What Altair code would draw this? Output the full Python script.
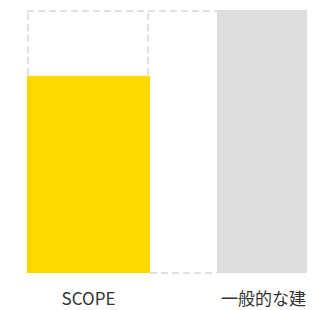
import altair as alt
import pandas as pd

categories = ["SCOPE", "一般的な建"]
values = [75, 100]
colors = ["#FDD900", "#DCDDDD"]
label_shift = [0, -15]
full_value = 100

bars = pd.DataFrame({"cat": categories, "value": values, "color": colors})

x_scale = alt.Scale(domain=categories, range=[0, 313], paddingInner=0.3526, paddingOuter=0)
y_scale = alt.Scale(domain=[0, full_value])
dash = [7, 4]
dash_color = "#E0E0E0"

top_df = pd.DataFrame({"a": [categories[0]], "b": [categories[1]], "y": [full_value]})
bottom_df = pd.DataFrame({"a": [categories[0]], "b": [categories[1]], "y": [0]})
vert_df = pd.DataFrame({"a": [categories[0]], "y": [0], "y2": [full_value]})

def xf(field, bp):
    return alt.X(f"{field}:N", scale=x_scale, axis=None, bandPosition=bp)

top_rule = alt.Chart(top_df).mark_rule(
    stroke=dash_color, strokeWidth=2, strokeDash=dash, yOffset=1
).encode(
    x=xf("a", 0),
    x2=alt.X2("b:N", bandPosition=0),
    y=alt.Y("y:Q", scale=y_scale, axis=None),
)

bottom_rule = alt.Chart(bottom_df).mark_rule(
    stroke=dash_color, strokeWidth=2, strokeDash=dash
).encode(
    x=xf("a", 1),
    x2=alt.X2("b:N", bandPosition=0),
    y=alt.Y("y:Q", scale=y_scale, axis=None),
)

left_rule = alt.Chart(vert_df).mark_rule(
    stroke=dash_color, strokeWidth=2, strokeDash=dash, xOffset=1
).encode(
    x=xf("a", 0),
    y=alt.Y("y:Q", scale=y_scale, axis=None),
    y2="y2:Q",
)

mid_rule = alt.Chart(vert_df).mark_rule(
    stroke=dash_color, strokeWidth=2, strokeDash=dash, xOffset=-2
).encode(
    x=xf("a", 1),
    y=alt.Y("y:Q", scale=y_scale, axis=None),
    y2="y2:Q",
)

bar_layer = alt.Chart(bars).mark_bar(size=123).encode(
    x=alt.X("cat:N", scale=x_scale, axis=None),
    y=alt.Y("value:Q", scale=y_scale, axis=None),
    color=alt.Color("color:N", scale=None, legend=None),
)

label_layers = []
for cat, shift in zip(categories, label_shift):
    label_layers.append(
        alt.Chart(bars[bars["cat"] == cat]).mark_text(
            font="Noto Sans CJK JP", fontSize=17, color="#333333",
            baseline="alphabetic", align="center", dx=shift,
        ).encode(
            x=alt.X("cat:N", scale=x_scale, axis=None, bandPosition=0.5),
            y=alt.value(295),
            text="cat:N",
        )
    )

chart = alt.layer(top_rule, bottom_rule, left_rule, mid_rule, bar_layer, *label_layers).properties(
    width=280,
    height=263,
    autosize=alt.AutoSizeParams(type="none"),
    padding={"left": 19, "top": 2, "right": 0, "bottom": 37},
    background="white",
).configure_view(stroke=None)

chart.save("out.html", embed_options={"renderer": "svg", "actions": False})
